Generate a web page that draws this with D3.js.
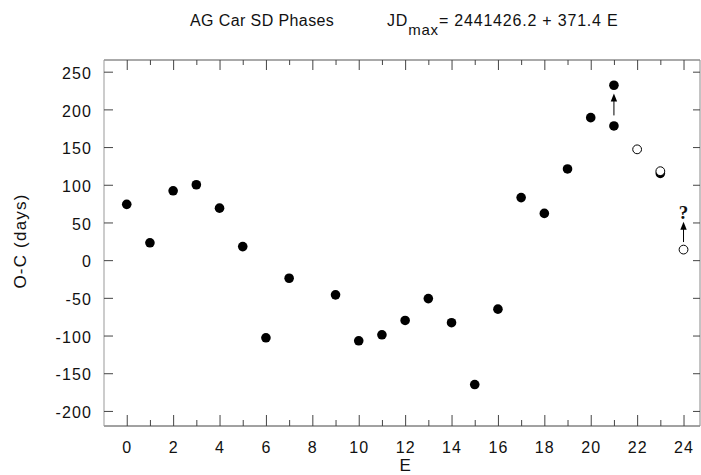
<!DOCTYPE html>
<html>
<head>
<meta charset="utf-8">
<script src="https://cdn.jsdelivr.net/npm/d3@7"></script>
<style>
  html, body { margin: 0; padding: 0; background: #fff; }
  svg { display: block; }
  text { font-family: "Liberation Sans", Arial, Helvetica, sans-serif; fill: #111; }
</style>
</head>
<body>
<svg id="chart" width="701" height="475"></svg>
<script>
// ---- data ----
const filledE = [0, 1, 2, 3, 4, 5, 6, 7, 9, 10, 11, 12, 13, 14, 15, 16, 17, 18, 19, 20, 21, 21, 23];
const filledOC = [74, 23, 92, 100, 69, 18, -103, -24, -46, -107, -99, -80, -51, -83, -165, -65, 83, 62, 121, 189, 178, 232, 115];
const openE = [22, 23, 24];
const openOC = [147, 118, 14];
// arrows: E, from, to
const arrowE = [21, 24];
const arrowFrom = [192, 24];
const arrowTo = [221, 51];
const questionE = [24];
const questionOC = [64];
const xMajorTicks = [0, 2, 4, 6, 8, 10, 12, 14, 16, 18, 20, 22, 24];
const xMinorTicks = [1, 3, 5, 7, 9, 11, 13, 15, 17, 19, 21, 23];
const yTicks = [-200, -150, -100, -50, 0, 50, 100, 150, 200, 250];

const svg = d3.select("#chart");
const L = 104, R = 700, T = 60, B = 426;

const x = d3.scaleLinear().domain([-0.98, 24.71]).range([L, R]);
const y = d3.scaleLinear().domain([-220, 265.5]).range([B, T]);

// frame
svg.append("line").attr("x1", L).attr("x2", R).attr("y1", B).attr("y2", B).attr("stroke", "#444");
svg.append("line").attr("x1", L).attr("x2", R).attr("y1", T).attr("y2", T).attr("stroke", "#555");
svg.append("line").attr("x1", L).attr("x2", L).attr("y1", T).attr("y2", B).attr("stroke", "#999");
svg.append("line").attr("x1", R).attr("x2", R).attr("y1", T).attr("y2", B).attr("stroke", "#888");

const fmt = d => String(d);

function styleAxis(g) {
  g.select(".domain").remove();
  g.selectAll(".tick line").attr("stroke", "#444");
  g.selectAll(".tick text")
    .style("font-size", "16px")
    .style("letter-spacing", "1.1px")
    .attr("fill", "#111");
}

// bottom axis
svg.append("g").attr("transform", `translate(0,${B})`)
  .call(d3.axisBottom(x).tickValues(xMajorTicks).tickSize(-11).tickPadding(16).tickFormat(fmt))
  .call(styleAxis);
svg.append("g").attr("transform", `translate(0,${B})`)
  .call(d3.axisBottom(x).tickValues(xMinorTicks).tickSize(-6).tickFormat(""))
  .call(styleAxis);
// top axis
svg.append("g").attr("transform", `translate(0,${T})`)
  .call(d3.axisTop(x).tickValues(xMajorTicks).tickSize(-10).tickFormat(""))
  .call(styleAxis);
svg.append("g").attr("transform", `translate(0,${T})`)
  .call(d3.axisTop(x).tickValues(xMinorTicks).tickSize(-5).tickFormat(""))
  .call(styleAxis);
// left axis
const gl = svg.append("g").attr("transform", `translate(${L},0)`)
  .call(d3.axisLeft(y).tickValues(yTicks).tickSize(-9).tickPadding(12).tickFormat(fmt))
  .call(styleAxis);
gl.selectAll(".tick text").attr("dy", "0.42em");
// right axis
svg.append("g").attr("transform", `translate(${R},0)`)
  .call(d3.axisRight(y).tickValues(yTicks).tickSize(-7).tickFormat(""))
  .call(styleAxis);

// filled points
svg.append("g").selectAll("circle").data(filledE.map((e, i) => [e, filledOC[i]]))
  .join("circle")
  .attr("cx", d => x(d[0])).attr("cy", d => y(d[1])).attr("r", 4.8)
  .attr("fill", "#000");

// open points
svg.append("g").selectAll("circle").data(openE.map((e, i) => [e, openOC[i]]))
  .join("circle")
  .attr("cx", d => x(d[0])).attr("cy", d => y(d[1])).attr("r", 4.4)
  .attr("fill", "#fff").attr("stroke", "#000").attr("stroke-width", 1);

// arrows
const ag = svg.append("g");
arrowE.forEach((e, i) => {
  const cx = x(e), y0 = y(arrowFrom[i]), y1 = y(arrowTo[i]);
  ag.append("line").attr("x1", cx).attr("x2", cx).attr("y1", y0).attr("y2", y1 + 6)
    .attr("stroke", "#000").attr("stroke-width", 1);
  ag.append("path")
    .attr("d", `M${cx},${y1} L${cx - 3.2},${y1 + 8} L${cx + 3.2},${y1 + 8} Z`)
    .attr("fill", "#000");
});

// question mark
svg.append("text")
  .attr("x", x(questionE[0])).attr("y", y(questionOC[0]))
  .attr("text-anchor", "middle").attr("dy", "0.36em")
  .style("font-family", "'Liberation Serif', 'DejaVu Serif', serif")
  .style("font-weight", "bold").style("font-size", "19px")
  .text("?");

// titles
svg.append("text").attr("x", 190).attr("y", 26)
  .style("font-size", "16px").style("letter-spacing", "0.4px")
  .text("AG Car SD Phases");
const eq = svg.append("text").attr("x", 387).attr("y", 26)
  .style("font-size", "16px").style("letter-spacing", "0.8px");
eq.append("tspan").text("JD");
eq.append("tspan").attr("dy", 9).style("font-size", "15px").text("max");
eq.append("tspan").attr("dy", -9).text("= 2441426.2 + 371.4 E");

// axis titles
svg.append("text").attr("x", x(12)).attr("y", 471)
  .attr("text-anchor", "middle").style("font-size", "17px")
  .text("E");
svg.append("text")
  .attr("transform", "translate(26,241) rotate(-90)")
  .attr("text-anchor", "middle").style("font-size", "17px").style("letter-spacing", "1.2px")
  .text("O-C (days)");
</script>
</body>
</html>
